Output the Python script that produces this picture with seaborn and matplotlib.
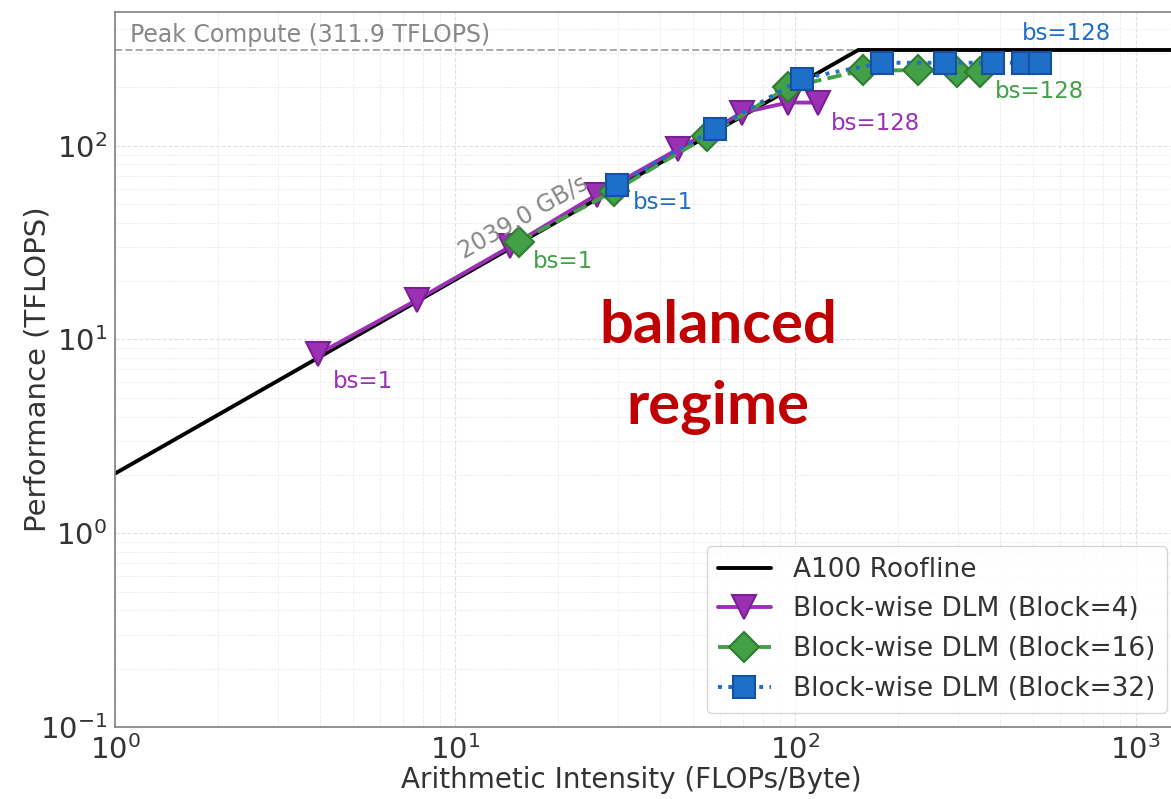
import numpy as np
import pandas as pd
import matplotlib
matplotlib.use("Agg")
import matplotlib.pyplot as plt
import seaborn as sns

# roofline parameters (A100)
peak_tflops = 311.9
bw_gbs = 2039.0

# measured points, bs = 1 ... 128
batch_sizes = [1, 2, 4, 8, 16, 32, 64, 128]
ai_block4 = [3.94, 7.7, 14.5, 26.1, 45.1, 69.6, 95.0, 116.5]
perf_block4 = [8.4, 16.0, 30.2, 56.0, 96.0, 148.0, 167.0, 167.0]
ai_block16 = [15.4, 29.3, 54.9, 95.0, 158.0, 229.0, 298.0, 349.0]
perf_block16 = [32.0, 58.5, 112.0, 200.0, 245.0, 245.0, 240.0, 240.0]
ai_block32 = [29.9, 58.0, 104.5, 180.0, 275.0, 381.0, 467.0, 524.0]
perf_block32 = [63.0, 122.0, 222.0, 268.0, 268.0, 268.0, 268.0, 268.0]

sns.set_theme(style="white")
plt.rcParams['font.family'] = ['DejaVu Sans']

fig = plt.figure(figsize=(11.71, 7.99), dpi=100)
ax = fig.add_axes([0.0986, 0.0901, 0.9585, 0.8949])

# roofline
x_max = 2000
ridge = peak_tflops / (bw_gbs / 1000)
roof = pd.DataFrame({"ai": [1, ridge, x_max],
                     "perf": [bw_gbs / 1000, peak_tflops, peak_tflops]})
sns.lineplot(data=roof, x="ai", y="perf", color="black", lw=2.8,
             label="A100 Roofline", ax=ax, zorder=2, sort=False)
ax.axhline(peak_tflops, color="#aaaaaa", ls="--", lw=1.4, zorder=1)

series = [
    ("Block-wise DLM (Block=4)", ai_block4, perf_block4, "#9b30b5", "#7a1f96", "v", "-", 17),
    ("Block-wise DLM (Block=16)", ai_block16, perf_block16, "#43a047", "#2e7d32", "D", "--", 15),
    ("Block-wise DLM (Block=32)", ai_block32, perf_block32, "#1e6fc8", "#1650a0", "s", ":", 16),
]
for name, xs, ys, col, edge, mk, ls, ms in series:
    df = pd.DataFrame({"ai": xs, "perf": ys, "bs": batch_sizes})
    sns.lineplot(data=df, x="ai", y="perf", color=col, lw=2.8, ls=ls,
                 marker=mk, markersize=ms, markeredgecolor=edge,
                 markeredgewidth=1.5, label=name, ax=ax, zorder=3,
                 estimator=None)

ax.set_xscale("log")
ax.set_yscale("log")
ax.set_xlim(1, x_max)
ax.set_ylim(0.1, 490)

ax.grid(True, which="major", ls="--", lw=0.8, color="#e0e0e0")
ax.grid(True, which="minor", ls="--", lw=0.6, color="#ebebeb")
for s in ax.spines.values():
    s.set_color("#808080")
    s.set_linewidth(1.2)
ax.tick_params(axis="both", which="major", labelsize=21, colors="#333333",
               length=0, pad=6)
ax.tick_params(axis="both", which="minor", length=0)
ax.set_xlabel("Arithmetic Intensity (FLOPs/Byte)", fontsize=20,
              color="#333333")
ax.set_ylabel("Performance (TFLOPS)", fontsize=21, color="#333333")
ax.xaxis.set_label_coords(0.4594, -0.055)
ax.yaxis.set_label_coords(-0.057, 0.5)

# labels
ax.text(1.10, peak_tflops * 1.035, f"Peak Compute ({peak_tflops} TFLOPS)",
        fontsize=17, color="#888888", va="bottom", ha="left")
ax.text(15.8, 43.0, f"{bw_gbs} GB/s", fontsize=17, color="#888888",
        rotation=29.6, rotation_mode="anchor", ha="center", va="center")

ann = [
    (ai_block4[0], perf_block4[0], "#9b30b5", (11, -20)),
    (ai_block4[-1], perf_block4[-1], "#9b30b5", (9, -15)),
    (ai_block16[0], perf_block16[0], "#43a047", (10, -14)),
    (ai_block16[-1], perf_block16[-1], "#43a047", (11, -14)),
    (ai_block32[0], perf_block32[0], "#1e6fc8", (11, -13)),
    (ai_block32[-1], perf_block32[-1], "#1e6fc8", (-13, 21)),
]
for i, (x, y, col, off) in enumerate(ann):
    txt = "bs=1" if i % 2 == 0 else "bs=128"
    ax.annotate(txt, (x, y), xytext=off, textcoords="offset points",
                fontsize=16.5, color=col, ha="left", va="center")

fig.text(718 / 1171, 1 - 367 / 799, "balanced\nregime", fontsize=43,
         fontweight="bold", color="#c00000", ha="center", va="center",
         family=["Lato", "DejaVu Sans"], linespacing=1.62)

ax.legend(loc="lower left", bbox_to_anchor=(707 / 1171, (799 - 713) / 799),
          bbox_transform=fig.transFigure, fontsize=19, frameon=True,
          edgecolor="#cccccc", fancybox=True, handlelength=2.0,
          labelcolor="#333333", borderpad=0.42, labelspacing=0.52,
          handletextpad=0.85, borderaxespad=0)

fig.savefig("out.png", dpi=100)
